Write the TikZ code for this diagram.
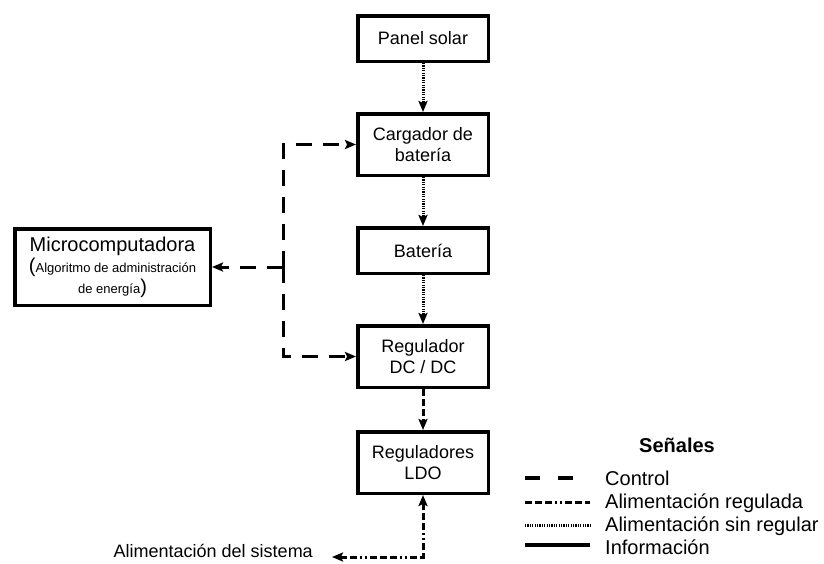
\documentclass[tikz,border=0pt]{standalone}
\usepackage{fontspec}
\setmainfont{Liberation Sans}
\usetikzlibrary{arrows.meta,positioning}

\begin{document}
\begin{tikzpicture}[x=1pt,y=-1pt,
	every node/.style={font=\fontsize{18}{21}\selectfont},
	bloque/.style={draw, line width=3.5pt, minimum width=130.5pt, minimum height=45.5pt, align=center, inner sep=0pt},
	alto/.style={minimum height=61.5pt},
	flecha/.style={-{Stealth[length=11pt,width=9pt,inset=2pt]}},
	control/.style={line width=3pt, dash pattern=on 16pt off 11pt},
	muestractrl/.style={line width=4pt, dash pattern=on 15pt off 18pt},
	regulada/.style={line width=3pt, dash pattern=on 7pt off 3pt on 7pt off 3pt on 7pt off 3pt on 2pt off 3pt on 2pt off 3pt},
	sinregular/.style={line width=3pt, dash pattern=on 1.2pt off 1.2pt},
	info/.style={line width=4.5pt},
	leyenda/.style={font=\fontsize{20}{22}\selectfont, anchor=base west, inner sep=0pt}]
	\useasboundingbox (0,0) rectangle (824,563);
	% cadena de potencia
	\node[bloque] (panel) at (423,38.5) {Panel solar};
	\node[bloque, alto, below=49pt of panel] (cargador) {Cargador de\\bater\'ia};
	\node[bloque, below=49pt of cargador] (bateria) {Bater\'ia};
	\node[bloque, alto, below=49pt of bateria] (regulador) {Regulador\\DC / DC};
	\node[bloque, alto, below=41pt of regulador] (ldo) {Reguladores\\LDO};
	\node[bloque, minimum width=195.5pt, minimum height=76.5pt] (micro) at (112.5,267)
		{{\fontsize{20}{22}\selectfont Microcomputadora}\\[0pt]
		{\fontsize{20}{20}\selectfont(}{\fontsize{13}{15}\selectfont Algoritmo de administraci\'on}\\[0pt]
		{\fontsize{13}{15}\selectfont de energ\'ia}{\fontsize{20}{20}\selectfont)}};
	\node[anchor=base east, inner sep=0pt] (sistema) at (313,557.5) {Alimentaci\'on del sistema};
	\coordinate (nudo) at (283,267);
	% conexiones
	\draw[sinregular, flecha] (panel) -- (cargador);
	\draw[sinregular, flecha] (cargador) -- (bateria);
	\draw[sinregular, flecha] (bateria) -- (regulador);
	\draw[regulada, flecha] (regulador) -- (ldo);
	\draw[regulada, {Stealth[length=11pt,width=9pt,inset=2pt]}-{Stealth[length=11pt,width=9pt,inset=2pt]}]
		(ldo.south) |- ([xshift=19pt]sistema.east |- 0,557);
	\draw[control, flecha] (nudo) -- (micro.east);
	\draw[control, flecha] (nudo) |- (cargador.west);
	\draw[control, flecha] (nudo) |- (regulador.west);
	% leyenda
	\node[font=\fontsize{20}{22}\selectfont\bfseries] (titulo) at (677,445) {Señales};
	\foreach \sty/\txt/\yy/\base in {muestractrl/Control/478/485, regulada/Alimentación regulada/502/508,
		sinregular/Alimentación sin regular/525/531, info/Información/545/554}{
		\draw[\sty] (525,\yy) -- (590,\yy);
		\node[leyenda] at (605,\base) {\txt};
	}
\end{tikzpicture}
\end{document}
